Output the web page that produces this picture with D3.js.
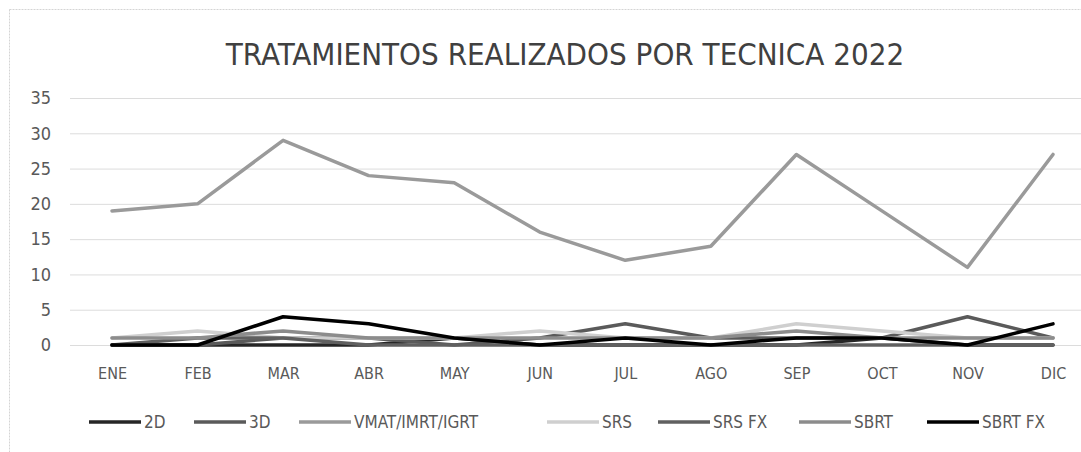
<!DOCTYPE html>
<html>
<head>
<meta charset="utf-8">
<script src="https://cdn.jsdelivr.net/npm/d3@7"></script>
<style>
  body { margin: 0; background: #fff; }
  text { font-family: "DejaVu Sans Condensed", "DejaVu Sans", sans-serif; }
</style>
</head>
<body>
<div id="chart"></div>
<script>
// Data
const months = ["ENE", "FEB", "MAR", "ABR", "MAY", "JUN", "JUL", "AGO", "SEP", "OCT", "NOV", "DIC"];
const yTicks = [0, 5, 10, 15, 20, 25, 30, 35];

const s2D      = [0, 0, 0, 0, 1, 0, 0, 0, 0, 1, 0, 0];
const s3D      = [0, 0, 1, 1, 0, 1, 3, 1, 1, 1, 4, 1];
const sVMAT    = [19, 20, 29, 24, 23, 16, 12, 14, 27, 19, 11, 27];
const sSRS     = [1, 2, 1, 1, 1, 2, 1, 1, 3, 2, 1, 1];
const sSRSFX   = [0, 1, 1, 0, 0, 0, 0, 0, 0, 0, 0, 0];
const sSBRT    = [1, 1, 2, 1, 1, 1, 1, 1, 2, 1, 1, 1];
const sSBRTFX  = [0, 0, 4, 3, 1, 0, 1, 0, 1, 1, 0, 3];

const series = [
  { name: "2D", values: s2D, color: "#262626" },
  { name: "3D", values: s3D, color: "#5a5a5a" },
  { name: "VMAT/IMRT/IGRT", values: sVMAT, color: "#9a9a9a" },
  { name: "SRS", values: sSRS, color: "#cfcfcf" },
  { name: "SRS FX", values: sSRSFX, color: "#606060" },
  { name: "SBRT", values: sSBRT, color: "#8c8c8c" },
  { name: "SBRT FX", values: sSBRTFX, color: "#000000" }
];

const W = 1081, H = 452;
const svg = d3.select("#chart").append("svg")
  .attr("width", W)
  .attr("height", H);

// chart border (cropped on the right/bottom in the scan)
svg.append("rect")
  .attr("x", 9.5).attr("y", 9.5)
  .attr("width", W + 20).attr("height", H + 20)
  .attr("fill", "none")
  .attr("stroke", "#d4d4d4")
  .attr("stroke-dasharray", "2,1");

// title
svg.append("text")
  .attr("x", 565).attr("y", 65)
  .attr("text-anchor", "middle")
  .attr("font-size", 31)
  .attr("fill", "#404040")
  .text("TRATAMIENTOS REALIZADOS POR TECNICA 2022");

// scales
const x = d3.scalePoint().domain(months).range([112, 1053]);
const y = d3.scaleLinear().domain([0, 35]).range([345, 98]);

// gridlines
svg.append("g")
  .selectAll("line")
  .data(yTicks)
  .join("line")
  .attr("x1", 70).attr("x2", W)
  .attr("y1", d => y(d) + 0.5).attr("y2", d => y(d) + 0.5)
  .attr("stroke", "#dcdcdc")
  .attr("stroke-width", 1);

// y axis labels
const yAxis = svg.append("g")
  .attr("transform", "translate(55,0)")
  .call(d3.axisLeft(y).tickValues(yTicks).tickSize(0).tickPadding(4));
yAxis.select(".domain").remove();
yAxis.selectAll("text")
  .attr("font-size", 18)
  .attr("fill", "#595959")
  .style("font-family", "'DejaVu Sans Condensed', 'DejaVu Sans', sans-serif");

// x axis labels
const xAxis = svg.append("g")
  .attr("transform", "translate(0,364)")
  .call(d3.axisBottom(x).tickSize(0).tickPadding(4));
xAxis.select(".domain").remove();
xAxis.selectAll("text")
  .attr("font-size", 16)
  .attr("fill", "#595959")
  .style("font-family", "'DejaVu Sans Condensed', 'DejaVu Sans', sans-serif");

// lines
const line = d3.line()
  .x((d, i) => x(months[i]))
  .y(d => y(d));

svg.append("g")
  .selectAll("path")
  .data(series)
  .join("path")
  .attr("d", d => line(d.values))
  .attr("fill", "none")
  .attr("stroke", d => d.color)
  .attr("stroke-width", 3.5)
  .attr("stroke-linejoin", "round")
  .attr("stroke-linecap", "round");

// legend
const legendX = [89, 194, 299, 547, 658, 799, 927];
const legend = svg.append("g")
  .selectAll("g")
  .data(series)
  .join("g")
  .attr("transform", (d, i) => `translate(${legendX[i]},422)`);
legend.append("line")
  .attr("x1", 0).attr("x2", 52)
  .attr("stroke", d => d.color)
  .attr("stroke-width", 3.5);
legend.append("text")
  .attr("x", 55).attr("y", 6)
  .attr("font-size", 17)
  .attr("fill", "#595959")
  .text(d => d.name);
</script>
</body>
</html>
